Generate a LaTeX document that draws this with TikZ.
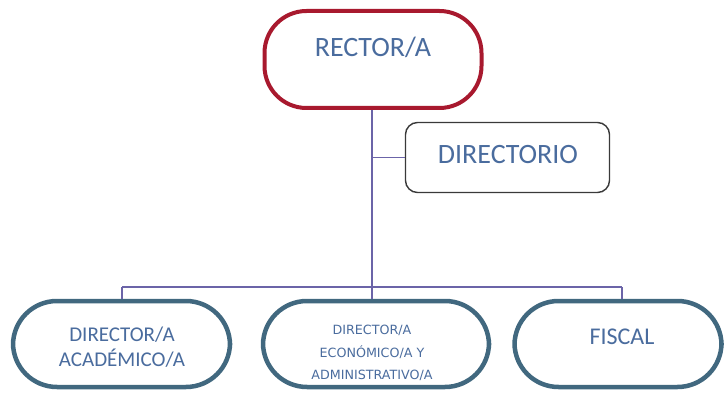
\documentclass[tikz,border=0pt]{standalone}
\usepackage{fontspec}
\setmainfont{Carlito}
\newfontfamily\smallsans{DejaVu Sans}
\definecolor{redb}{HTML}{A8192E}
\definecolor{tealb}{HTML}{41687F}
\definecolor{txtb}{HTML}{4A6C9E}
\definecolor{linec}{HTML}{6B64A8}
\definecolor{grayb}{HTML}{3A3A3A}
\tikzset{
  pill/.style={draw=tealb, line width=4.5pt, rounded corners=44pt, fill=white, inner sep=0pt},
  topbox/.style={draw=redb, line width=4pt, rounded corners=42pt, fill=white, inner sep=0pt, minimum width=217pt, minimum height=97pt},
  dirbox/.style={draw=grayb, line width=1.4pt, rounded corners=12pt, fill=white, minimum width=204pt, minimum height=70pt, inner sep=0pt},
  lbl/.style={text=txtb, align=center, inner sep=0pt},
  conn/.style={draw=linec, line width=1.3pt}
}
\begin{document}
\begin{tikzpicture}[x=1pt,y=-1pt]
\useasboundingbox (0,0) rectangle (724,396);
% nodes
\node[topbox] (rector) at (373,59.5) {};
\node[lbl, font=\fontsize{28}{30}\selectfont] (rectortxt) at (373,47) {RECTOR/A};
\node[dirbox] (dir) at (507.5,157.5) {};
\node[lbl, font=\fontsize{28}{30}\selectfont] (dirtxt) at (508,155) {DIRECTORIO};
\node[pill, minimum width=217pt, minimum height=86pt] (acad) at (121.5,344) {};
\node[pill, minimum width=226pt, minimum height=86pt] (econ) at (376,344) {};
\node[pill, minimum width=207pt, minimum height=86pt] (fisc) at (618,344) {};
\node[lbl, font=\fontsize{21}{25}\selectfont] (acadtxt) at (122,347) {DIRECTOR/A\\ACADÉMICO/A};
\node[lbl, font=\smallsans\fontsize{12.7}{22.5}\selectfont] (econtxt) at (372,353) {DIRECTOR/A\\ECONÓMICO/A Y\\ADMINISTRATIVO/A};
\node[lbl, font=\fontsize{24}{26}\selectfont] (fisctxt) at (622,337) {FISCAL};
\coordinate (bus) at (372,287);
\coordinate (busL) at (122,287);
\coordinate (busR) at (622,287);
% connectors
\draw[conn] (rector.south -| bus) -- (bus);
\draw[conn] (dir.west) -- (dir.west -| bus);
\draw[conn] (busL) -- (busR);
\draw[conn] (busL) -- (busL |- acad.north);
\draw[conn] (bus) -- (bus |- econ.north);
\draw[conn] (busR) -- (busR |- fisc.north);
\end{tikzpicture}
\end{document}
